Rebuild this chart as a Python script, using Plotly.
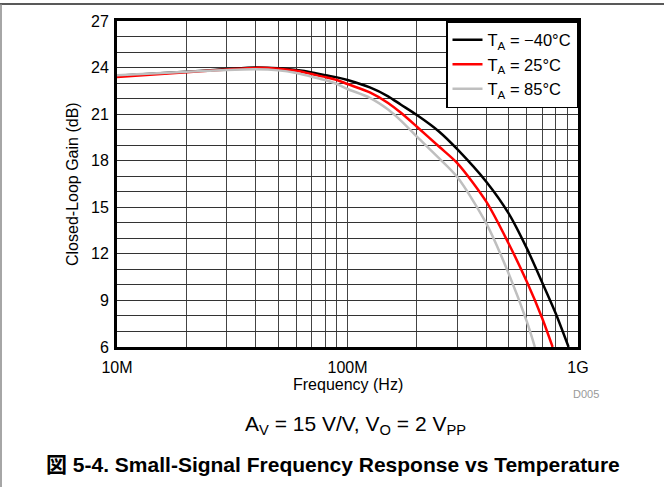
import plotly.graph_objects as go

# Frequency (Hz) and closed-loop gain (dB)
freq_m40 = [1e7, 2e7, 3e7, 4e7, 5e7, 6e7, 7e7, 8e7, 9e7, 1e8, 1.25e8, 1.5e8, 1.7e8, 2e8, 2.5e8, 3e8, 4e8, 5e8, 6e8, 7e8, 8e8, 9.1e8]
gain_m40 = [23.48, 23.73, 23.9, 24.0, 23.95, 23.84, 23.69, 23.5, 23.37, 23.2, 22.72, 22.15, 21.62, 20.94, 19.87, 18.73, 16.65, 14.61, 12.35, 10.14, 8.17, 6.0]

freq_25 = [1e7, 2e7, 3e7, 4e7, 5e7, 6e7, 7e7, 8e7, 9e7, 1e8, 1.25e8, 1.5e8, 1.7e8, 2e8, 2.5e8, 3e8, 4e8, 5e8, 6e8, 7e8, 7.76e8]
gain_25 = [23.39, 23.7, 23.88, 23.98, 23.93, 23.8, 23.58, 23.39, 23.2, 22.94, 22.4, 21.72, 21.1, 20.19, 18.9, 17.83, 15.36, 12.67, 10.2, 7.84, 6.0]

freq_85 = [1e7, 2e7, 3e7, 4e7, 5e7, 6e7, 7e7, 8e7, 9e7, 1e8, 1.25e8, 1.5e8, 1.7e8, 2e8, 2.5e8, 3e8, 4e8, 5e8, 6e8, 6.5e8]
gain_85 = [23.5, 23.73, 23.85, 23.89, 23.82, 23.65, 23.41, 23.2, 22.94, 22.62, 22.05, 21.3, 20.6, 19.55, 18.15, 16.93, 13.96, 10.74, 7.63, 6.0]

series_names = ["T<sub>A</sub> = \u221240\u00b0C", "T<sub>A</sub> = 25\u00b0C", "T<sub>A</sub> = 85\u00b0C"]
series_colors = ["#000000", "#ff0000", "#bfbfbf"]

x_tickvals = [1e7, 1e8, 1e9]
x_ticktext = ["10M", "100M", "1G"]
y_tickvals = [6, 9, 12, 15, 18, 21, 24, 27]

FONT = "Liberation Sans, Arial, sans-serif"

fig = go.Figure()
for fx, gy, name, col in [(freq_m40, gain_m40, series_names[0], series_colors[0]),
                          (freq_25, gain_25, series_names[1], series_colors[1]),
                          (freq_85, gain_85, series_names[2], series_colors[2])]:
    fig.add_trace(go.Scatter(x=fx, y=gy, mode="lines", name=name,
                             line=dict(color=col, width=2.5, shape="spline", smoothing=0.8)))

fig.update_layout(
    width=664, height=487,
    margin=dict(l=117, r=86, t=21, b=140),
    paper_bgcolor="white", plot_bgcolor="white",
    font=dict(family=FONT, size=16, color="black"),
    showlegend=True,
    legend=dict(x=1, xanchor="right", y=1, yanchor="top",
                bgcolor="white", bordercolor="black", borderwidth=1.5,
                font=dict(family=FONT, size=16.5), tracegroupgap=0,
                itemwidth=30),
    xaxis=dict(type="log", range=[7, 9], tickvals=x_tickvals, ticktext=x_ticktext,
               showgrid=True, gridcolor="#444444", gridwidth=1,
               minor=dict(dtick="D1", showgrid=True, gridcolor="#444444", gridwidth=1),
               showline=True, linecolor="black", linewidth=3, mirror=True,
               ticks="outside", ticklen=4, tickcolor="rgba(0,0,0,0)",
               tickfont=dict(size=16), zeroline=False),
    yaxis=dict(range=[6, 27], tickvals=y_tickvals,
               showgrid=True, gridcolor="#333333", gridwidth=1,
               minor=dict(dtick=1, showgrid=True, gridcolor="#333333", gridwidth=1, tick0=6),
               showline=True, linecolor="black", linewidth=3, mirror=True,
               ticks="outside", ticklen=2, tickcolor="rgba(0,0,0,0)",
               tickfont=dict(size=16), zeroline=False),
)

annos = [
    dict(text="Frequency (Hz)", x=(348 - 117) / 461, y=(347 - 384) / 326, font=dict(size=16)),
    dict(text="Closed-Loop Gain (dB)", x=(72 - 117) / 461, y=0.5, textangle=-90, font=dict(size=16)),
    dict(text="D005", x=(586 - 117) / 461, y=(347 - 394) / 326, font=dict(size=11, color="#999999")),
    dict(text="A<sub>V</sub> = 15 V/V, V<sub>O</sub> = 2 V<sub>PP</sub>", x=(355 - 117) / 461,
         y=(347 - 425) / 326, font=dict(size=21)),
    dict(text="<b>\u56f3 5-4. Small-Signal Frequency Response vs Temperature</b>", x=(332.5 - 117) / 461,
         y=(347 - 464) / 326, font=dict(size=21, family="Liberation Sans, Noto Sans CJK JP, Arial")),
]
for a in annos:
    fig.add_annotation(xref="paper", yref="paper", showarrow=False,
                       xanchor="center", yanchor="middle", **a)

# outer frame lines (top dark, left gray)
fig.add_shape(type="line", xref="paper", yref="paper",
              x0=-117 / 461, x1=(664 - 117) / 461, y0=(347 - 4) / 326, y1=(347 - 4) / 326,
              line=dict(color="#222222", width=1.5))
fig.add_shape(type="line", xref="paper", yref="paper",
              x0=(1 - 117) / 461, x1=(1 - 117) / 461, y0=(347 - 4) / 326, y1=(347 - 487) / 326,
              line=dict(color="#888888", width=1.5))

fig.write_html("out.html", config={"displayModeBar": False},
               post_script="document.body.style.margin='0';")
